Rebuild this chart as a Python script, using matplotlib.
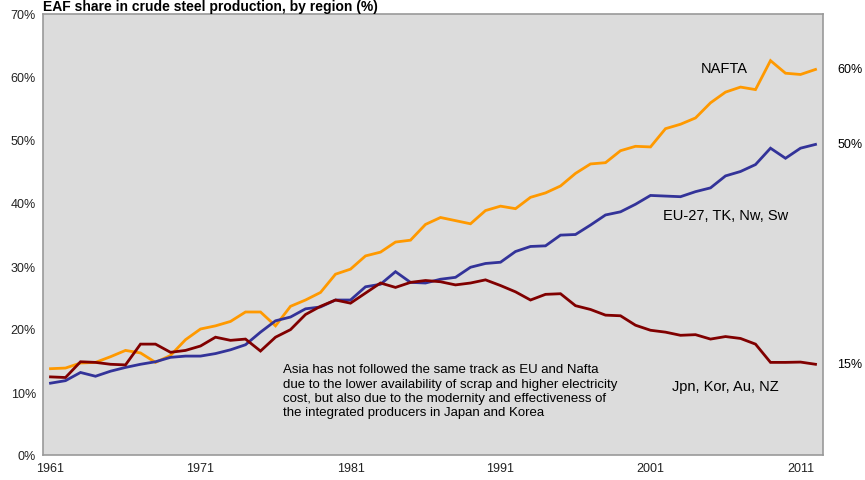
import numpy as np
import matplotlib
matplotlib.use("Agg")
import matplotlib.pyplot as plt
import matplotlib.transforms as mtransforms

years = list(range(1961, 2013))

nafta = [13.7, 13.8, 14.6, 14.7, 15.6, 16.6, 16.2, 14.7, 15.8, 18.3,
         20.0, 20.5, 21.2, 22.7, 22.7, 20.5, 23.6, 24.6, 25.8, 28.7,
         29.5, 31.6, 32.2, 33.8, 34.1, 36.6, 37.7, 37.2, 36.7, 38.8,
         39.5, 39.1, 40.9, 41.6, 42.7, 44.7, 46.2, 46.4, 48.3, 49.0,
         48.9, 51.8, 52.5, 53.5, 55.9, 57.6, 58.4, 58.0, 62.6, 60.6,
         60.4, 61.2]

eu = [11.4, 11.8, 13.1, 12.5, 13.3, 13.9, 14.4, 14.8, 15.5, 15.7,
      15.7, 16.1, 16.7, 17.5, 19.5, 21.3, 21.9, 23.2, 23.5, 24.6,
      24.6, 26.7, 27.1, 29.1, 27.4, 27.3, 27.9, 28.2, 29.8, 30.4,
      30.6, 32.3, 33.1, 33.2, 34.9, 35.0, 36.5, 38.1, 38.6, 39.8,
      41.2, 41.1, 41.0, 41.8, 42.4, 44.3, 45.0, 46.1, 48.7, 47.1,
      48.7, 49.3]

asia = [12.4, 12.3, 14.8, 14.7, 14.4, 14.3, 17.6, 17.6, 16.3, 16.6,
        17.3, 18.7, 18.2, 18.4, 16.5, 18.7, 19.9, 22.3, 23.6, 24.6,
        24.1, 25.7, 27.3, 26.6, 27.4, 27.7, 27.5, 27.0, 27.3, 27.8,
        26.9, 25.9, 24.6, 25.5, 25.6, 23.7, 23.1, 22.2, 22.1, 20.6,
        19.8, 19.5, 19.0, 19.1, 18.4, 18.8, 18.5, 17.6, 14.7, 14.7,
        14.75, 14.4]

series_names = ["NAFTA", "EU-27, TK, Nw, Sw", "Jpn, Kor, Au, NZ"]
end_labels = ["60%", "50%", "15%"]
yticks = [0, 10, 20, 30, 40, 50, 60, 70]
xtick_years = [1961, 1971, 1981, 1991, 2001, 2011]

note = ("Asia has not followed the same track as EU and Nafta\n"
        "due to the lower availability of scrap and higher electricity\n"
        "cost, but also due to the modernity and effectiveness of\n"
        "the integrated producers in Japan and Korea")


def main():
    plt.rcParams['font.family'] = ['Liberation Sans', 'DejaVu Sans']
    fig = plt.figure(figsize=(8.65, 4.81), dpi=100)
    ax = fig.add_axes([43 / 865, 1 - 456 / 481, 780 / 865, 441 / 481])
    ax.set_facecolor("#dcdcdc")

    x = np.arange(len(years))
    colors = ["#ff9900", "#333399", "#800000"]
    data = [nafta, eu, asia]
    for vals, c in zip(data, colors):
        ax.plot(x, vals, color=c, linewidth=2.0, solid_joinstyle="miter")

    ax.set_xlim(-0.5, len(years) - 0.5)
    ax.set_ylim(0, 70)
    ax.set_yticks(yticks)
    ax.set_yticklabels([f"{v}%" for v in yticks], fontsize=9)
    ax.set_xticks([years.index(y) for y in xtick_years])
    ax.set_xticklabels([str(y) for y in xtick_years], fontsize=9)
    ax.tick_params(length=0, pad=5, colors="#222222")
    for s in ax.spines.values():
        s.set_color("#999999")
        s.set_linewidth(1.2)

    # series names inside the plot
    ax.text(years.index(2006) - 0.05, 61.4, series_names[0], fontsize=10.5, ha="center", va="center")
    ax.text(years.index(2006), 38.1, series_names[1], fontsize=10.5, ha="center", va="center")
    ax.text(years.index(2006), 11.0, series_names[2], fontsize=10.5, ha="center", va="center")

    # end values to the right of the plot
    trans = mtransforms.blended_transform_factory(ax.transAxes, ax.transData)
    for vals, lab in zip(data, end_labels):
        ax.text(1.018, vals[-1], lab, transform=trans, fontsize=9, ha="left", va="center")

    ax.text(years.index(1976) + 0.5, 10.2, note, fontsize=9.5, ha="left", va="center",
            linespacing=1.25)

    fig.text(43 / 865, 1 - 11 / 481, "EAF share in crude steel production, by region (%)",
             fontsize=10, fontweight="bold", ha="left", va="baseline")

    fig.savefig("out.png", dpi=100)


if __name__ == "__main__":
    main()
